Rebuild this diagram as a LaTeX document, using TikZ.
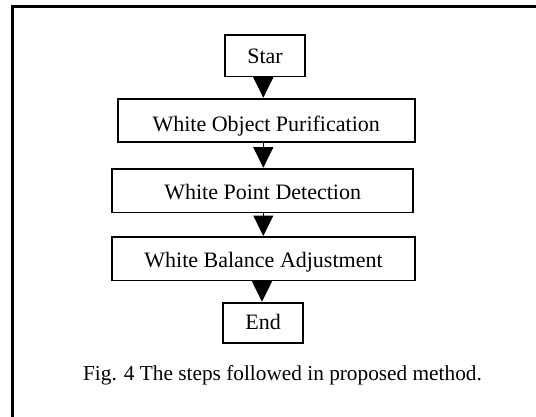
\documentclass[tikz,border=0pt]{standalone}
\usepackage{fontspec}
\setmainfont{Liberation Serif}
\usetikzlibrary{arrows.meta}
\begin{document}
\begin{tikzpicture}[x=1pt,y=-1pt,
  stepbox/.style={draw,line width=1.8pt,inner sep=0pt,
    font=\fontsize{22}{24}\selectfont,text depth=0pt,text height=14.5pt},
  flow/.style={line width=1pt,-{Triangle[width=20pt,length=20.5pt]}},
  frameline/.style={line width=2.5pt}]
\useasboundingbox (0,0) rectangle (536,416);
\clip (0,0) rectangle (536,416);

% page frame (top and left edges)
\draw[frameline] (12.5,418) -- (12.5,6.7) -- (540,6.7);

% process steps
\node[stepbox,minimum width=79.6pt,minimum height=41.2pt,text height=15.7pt]
  (star) at (265,55.8) {Star};
\node[stepbox,minimum width=297.2pt,minimum height=43.5pt,text height=21.7pt]
  (wop) at (266.2,120.35) {White Object Purification};
\node[stepbox,minimum width=300.9pt,minimum height=43.8pt,text height=18.9pt]
  (wpd) at (262.65,190.5) {White Point Detection};
\node[stepbox,minimum width=302.6pt,minimum height=43.5pt,text height=18.5pt]
  (wba) at (263.5,258.65) {White Balance Adjustment};
\node[stepbox,minimum width=79.9pt,minimum height=40.5pt,text height=13.8pt]
  (end) at (263.15,322.85) {End};

% arrow axis
\coordinate (ax) at (263.3,0);
\coordinate (ax2) at (262,0);

\draw[flow] (star.south -| ax) -- (wop.north -| ax);
\draw[flow] (wop.south -| ax) -- (wpd.north -| ax);
\draw[flow] (wpd.south -| ax) -- (wba.north -| ax);
\draw[flow] (wba.south -| ax2) -- (end.north -| ax2);

% caption
\node[anchor=base,inner sep=0pt,font=\fontsize{21.3}{24}\selectfont]
  (cap) at (282.5,380) {Fig. 4 The steps followed in proposed method.};
\end{tikzpicture}
\end{document}
